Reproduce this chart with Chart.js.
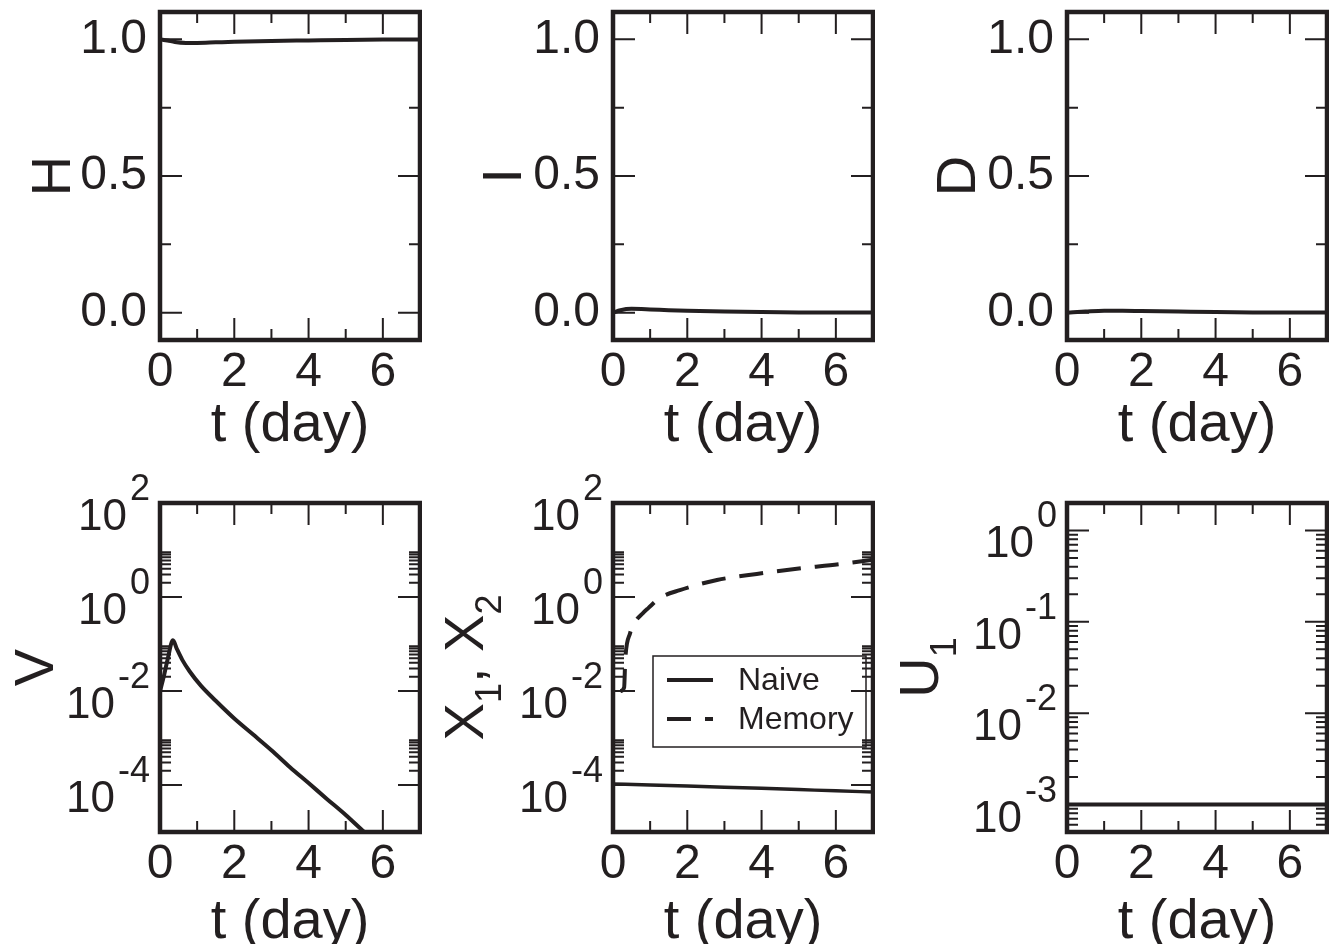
<!DOCTYPE html>
<html>
<head>
<meta charset="utf-8">
<script src="https://cdn.jsdelivr.net/npm/chart.js@4.4.0/dist/chart.umd.min.js"></script>
<style>
html, body { margin: 0; padding: 0; background: #fff; overflow: hidden; }
#wrap { position: relative; width: 1329px; height: 944px; overflow: hidden; }
#wrap canvas { position: absolute; }
</style>
</head>
<body>
<div id="wrap"></div>
<script>
const FONT = '"Liberation Sans", Arial, Helvetica, sans-serif';
const INK = '#231f20';

// time axis (days)
const xTicks = [0, 2, 4, 6];
const xMinor = [1, 3, 5];

// top row: linear fractions
const linTicks = [0, 0.5, 1.0];
const linMinor = [0.25, 0.75];

// bottom row: log axes, labels as powers of ten
const vxExp = [-4, -2, 0, 2];
const vxMinorDecades = [-4, -2, 0];
const uExp = [-3, -2, -1, 0];
const uMinorDecades = [-4, -3, -2, -1, 0];
const minorMult = [2, 3, 4, 5, 6, 7, 8, 9];

// H
const tH = [0, 0.2, 0.4, 0.7, 1, 1.5, 2, 3, 4, 5, 6, 7];
const H  = [1.0, 0.996, 0.99, 0.987, 0.987, 0.989, 0.991, 0.994, 0.996, 0.998, 0.999, 0.999];
// I
const tI = [0, 0.2, 0.5, 1, 1.5, 2, 3, 4, 5, 6, 7];
const I  = [0, 0.009, 0.014, 0.012, 0.009, 0.007, 0.004, 0.002, 0.001, 0.0006, 0.0004];
// D
const tD = [0, 0.5, 1, 1.5, 2, 3, 4, 5, 6, 7];
const D  = [0, 0.004, 0.007, 0.007, 0.006, 0.004, 0.002, 0.001, 0.0005, 0.0003];
// V
const tV = [0, 0.1, 0.2, 0.35, 0.45, 0.6, 0.8, 1.1, 1.5, 2, 2.5, 3, 3.5, 4, 4.5, 5, 5.5, 6, 7];
const V  = [0.01, 0.02, 0.045, 0.12, 0.08, 0.046, 0.026, 0.013, 0.0062, 0.0026, 0.0012, 5.5e-4, 2.4e-4, 1.1e-4, 5e-5, 2.3e-5, 1.0e-5, 4.6e-6, 1e-6];
// X1 naive, X2 memory
const tNaive = [0, 1, 2, 3, 4, 5, 6, 7];
const naive  = [1.05e-4, 1.0e-4, 9.5e-5, 9e-5, 8.5e-5, 8e-5, 7.5e-5, 7.1e-5];
const tMemory = [0.2, 0.3, 0.33, 0.46, 0.6, 0.8, 0.95, 1.26, 1.8, 2.8, 3.87, 4.95, 6.1, 7];
const memory  = [0.01, 0.012, 0.046, 0.17, 0.3, 0.45, 0.58, 0.95, 1.4, 2.3, 3.1, 4.0, 5.0, 6.2];
// U1
const tU = [0, 7];
const U  = [1e-3, 1e-3];

const pts = (ts, vs) => ts.map((t, i) => ({ x: t, y: vs[i] }));

function line(data, extra) {
  return Object.assign({
    data: data, borderColor: INK, borderWidth: 4, pointRadius: 0,
    cubicInterpolationMode: 'monotone', fill: false
  }, extra || {});
}

// draws frame, inward ticks, log labels, y title and legend
const framePlugin = {
  id: 'frame',
  afterDatasetsDraw(chart, args, o) {
    const { ctx, chartArea: a, scales: { x, y } } = chart;
    ctx.save();
    ctx.strokeStyle = INK;
    ctx.fillStyle = INK;
    ctx.lineWidth = 2;
    ctx.beginPath();
    const xt = (v, len) => {
      const p = x.getPixelForValue(v);
      ctx.moveTo(p, a.bottom); ctx.lineTo(p, a.bottom - len);
      ctx.moveTo(p, a.top); ctx.lineTo(p, a.top + len);
    };
    const yt = (v, len) => {
      const p = y.getPixelForValue(v);
      if (p < a.top - 0.5 || p > a.bottom + 0.5) return;
      ctx.moveTo(a.left, p); ctx.lineTo(a.left + len, p);
      ctx.moveTo(a.right, p); ctx.lineTo(a.right - len, p);
    };
    xTicks.forEach(v => xt(v, 22));
    xMinor.forEach(v => xt(v, 11));
    o.yMajor.forEach(v => yt(v, 22));
    o.yMinor.forEach(v => yt(v, 11));
    ctx.stroke();

    ctx.lineWidth = 4.5;
    ctx.strokeRect(a.left, a.top, a.right - a.left, a.bottom - a.top);

    // power-of-ten labels
    if (o.exps) {
      ctx.textAlign = 'left';
      ctx.textBaseline = 'alphabetic';
      o.exps.forEach(e => {
        const p = y.getPixelForValue(Math.pow(10, e));
        const sup = String(e);
        ctx.font = '36px ' + FONT;
        const ws = ctx.measureText(sup).width;
        ctx.font = '44px ' + FONT;
        const wb = ctx.measureText('10').width;
        const xr = a.left - 10;
        ctx.fillText('10', xr - ws - 3 - wb, p + 27);
        ctx.font = '36px ' + FONT;
        ctx.fillText(sup, xr - ws, p - 3);
      });
    }

    // rotated y title with subscripts
    if (o.title) {
      const segs = o.title;
      let total = 0;
      segs.forEach(s => {
        ctx.font = (s.sub ? '36px ' : '56px ') + FONT;
        s.w = ctx.measureText(s.t).width;
        total += s.w;
      });
      ctx.translate(a.left - o.titleOffset, (a.top + a.bottom) / 2);
      ctx.rotate(-Math.PI / 2);
      ctx.textAlign = 'left';
      ctx.textBaseline = 'alphabetic';
      let u = -total / 2;
      segs.forEach(s => {
        ctx.font = (s.sub ? '36px ' : '56px ') + FONT;
        ctx.fillText(s.t, u, s.sub ? 18 : 0);
        u += s.w;
      });
      ctx.setTransform(1, 0, 0, 1, 0, 0);
    }

    // legend box
    if (o.legend) {
      const L = o.legend;
      const bx = a.left + 40, by = a.top + 153;
      ctx.lineWidth = 1.5;
      ctx.strokeRect(bx, by, 213, 91);
      ctx.font = '32px ' + FONT;
      ctx.textAlign = 'left';
      ctx.textBaseline = 'middle';
      L.forEach((item, i) => {
        const ds = chart.data.datasets[i];
        const ly = by + 24 + i * 39;
        ctx.lineWidth = 4;
        ctx.setLineDash(ds.borderDash || []);
        ctx.beginPath();
        ctx.moveTo(bx + 14, ly); ctx.lineTo(bx + 60, ly);
        ctx.stroke();
        ctx.setLineDash([]);
        ctx.fillText(item, bx + 85, ly + 1);
      });
    }
    ctx.restore();
  }
};

const rows = [
  { top: 0, height: 472, aTop: 12, aH: 328, titlePad: 13 },
  { top: 472, height: 500, aTop: 31, aH: 329, titlePad: 16 }
];
const colLeft = [160, 613, 1067];

function makePanel(col, row, cfg) {
  const r = rows[row];
  const cv = document.createElement('canvas');
  const W = 175 + 260 + 2;
  cv.width = W; cv.height = r.height;
  cv.style.left = (colLeft[col] - 175) + 'px';
  cv.style.top = r.top + 'px';
  cv.style.width = W + 'px'; cv.style.height = r.height + 'px';
  document.getElementById('wrap').appendChild(cv);

  const xH = r.height - r.aTop - r.aH;
  const yScale = cfg.log ? {
    type: 'logarithmic', min: cfg.min, max: cfg.max,
    grid: { display: false, drawTicks: false }, border: { display: false },
    ticks: { display: false },
    afterBuildTicks: s => { s.ticks = cfg.exps.map(e => ({ value: Math.pow(10, e) })); },
    afterFit: s => { s.width = 175; s.paddingTop = 0; s.paddingBottom = 0; }
  } : {
    type: 'linear', min: -0.1, max: 1.1,
    grid: { display: false, drawTicks: false }, border: { display: false },
    ticks: {
      autoSkip: false, padding: 13, color: INK,
      font: { family: FONT, size: 48 },
      callback: v => v.toFixed(1)
    },
    afterBuildTicks: s => { s.ticks = linTicks.map(v => ({ value: v })); },
    afterFit: s => { s.width = 175; s.paddingTop = 0; s.paddingBottom = 0; }
  };

  new Chart(cv, {
    type: 'line',
    data: { datasets: cfg.datasets },
    options: {
      responsive: false, animation: false, devicePixelRatio: 1,
      layout: { padding: { top: r.aTop, right: 2, left: 0, bottom: 0 } },
      plugins: {
        legend: { display: false }, tooltip: { enabled: false },
        frame: {
          yMajor: cfg.log ? cfg.exps.map(e => Math.pow(10, e)) : linTicks,
          yMinor: cfg.minor || linMinor,
          exps: cfg.log ? cfg.exps : null,
          title: cfg.title, titleOffset: cfg.titleOffset,
          legend: cfg.legend || null
        }
      },
      scales: {
        x: {
          type: 'linear', min: 0, max: 7,
          grid: { display: false, drawTicks: false }, border: { display: false },
          ticks: {
            autoSkip: false, padding: 4, color: INK, maxRotation: 0,
            font: { family: FONT, size: 48 },
            callback: v => String(v)
          },
          title: {
            display: true, text: 't (day)', color: INK,
            font: { family: FONT, size: 56 },
            padding: { top: 0, bottom: r.titlePad }
          },
          afterBuildTicks: s => { s.ticks = xTicks.map(v => ({ value: v })); },
          afterFit: s => { s.height = xH; s.paddingLeft = 0; s.paddingRight = 0; }
        },
        y: yScale
      }
    },
    plugins: [framePlugin]
  });
}

const minorsFor = (decades, lo, hi) => {
  const out = [];
  decades.forEach(d => minorMult.forEach(k => {
    const v = k * Math.pow(10, d);
    if (v >= lo && v <= hi) out.push(v);
  }));
  return out;
};

makePanel(0, 0, { datasets: [line(pts(tH, H))], title: [{ t: 'H' }], titleOffset: 90 });
makePanel(1, 0, { datasets: [line(pts(tI, I))], title: [{ t: 'I' }], titleOffset: 92 });
makePanel(2, 0, { datasets: [line(pts(tD, D))], title: [{ t: 'D' }], titleOffset: 92 });

makePanel(0, 1, {
  log: true, min: 1e-5, max: 1e2, exps: vxExp,
  minor: minorsFor(vxMinorDecades, 1e-5, 1e2),
  datasets: [line(pts(tV, V))],
  title: [{ t: 'V' }], titleOffset: 107
});
makePanel(1, 1, {
  log: true, min: 1e-5, max: 1e2, exps: vxExp,
  minor: minorsFor(vxMinorDecades, 1e-5, 1e2),
  datasets: [
    line(pts(tNaive, naive), { borderWidth: 3.5 }),
    line(pts(tMemory, memory), { borderWidth: 4, borderDash: [24, 14] })
  ],
  title: [{ t: 'X' }, { t: '1', sub: true }, { t: ', X' }, { t: '2', sub: true }],
  titleOffset: 130,
  legend: ['Naive', 'Memory']
});
makePanel(2, 1, {
  log: true, min: 5e-4, max: 2, exps: uExp,
  minor: minorsFor(uMinorDecades, 5e-4, 2),
  datasets: [line(pts(tU, U))],
  title: [{ t: 'U' }, { t: '1', sub: true }],
  titleOffset: 129
});
</script>
</body>
</html>
